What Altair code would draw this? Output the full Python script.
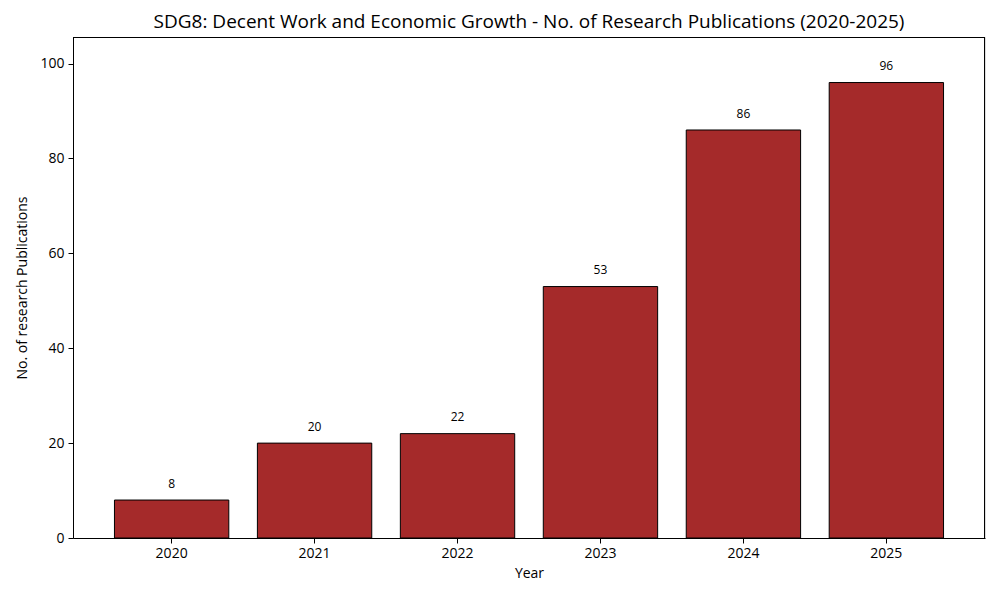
import altair as alt
import pandas as pd

years = ["2020", "2021", "2022", "2023", "2024", "2025"]
counts = [8, 20, 22, 53, 86, 96]

df = pd.DataFrame({"Year": years, "Count": counts})
df["LabelPos"] = df["Count"] + 2

FONT = "Open Sans"

x_enc = alt.X("Year:N", sort=years,
              scale=alt.Scale(paddingInner=0.2, paddingOuter=0.29),
              axis=alt.Axis(title="Year", labelAngle=0, labelFontSize=14, titleFontSize=14,
                            labelColor="black", titleColor="black", tickColor="black",
                            domainColor="black", tickSize=5, labelPadding=3, titlePadding=6,
                            titleFontWeight="normal", labelFont=FONT, titleFont=FONT))

bars = alt.Chart(df).mark_bar(color="#A52A2A", stroke="black", strokeWidth=1).encode(
    x=x_enc,
    y=alt.Y("Count:Q", scale=alt.Scale(domain=[0, 105.6], nice=False),
            axis=alt.Axis(title="No. of research Publications", values=[0, 20, 40, 60, 80, 100],
                          grid=False, labelFontSize=14, titleFontSize=14, labelColor="black",
                          titleColor="black", tickColor="black", domainColor="black",
                          tickSize=5, labelPadding=4, titlePadding=10, titleFontWeight="normal",
                          labelFont=FONT, titleFont=FONT)),
)

labels = alt.Chart(df).mark_text(baseline="bottom", fontSize=12, font=FONT, color="black").encode(
    x=alt.X("Year:N", sort=years),
    y=alt.Y("LabelPos:Q"),
    text=alt.Text("Count:Q"),
)

frame_top = alt.Chart(df).mark_rule(color="black", strokeWidth=1).encode(
    x=alt.value(0), x2=alt.value(912), y=alt.value(0.5))
frame_right = alt.Chart(df).mark_rule(color="black", strokeWidth=1).encode(
    x=alt.value(911.5), y=alt.value(0), y2=alt.value(501))

chart = alt.layer(bars, labels, frame_top, frame_right).properties(
    width=912, height=501,
    title=alt.Title("SDG8: Decent Work and Economic Growth - No. of Research Publications (2020-2025)",
                    fontSize=19, font=FONT, fontWeight="normal", color="black", offset=5),
    autosize=alt.AutoSizeParams(type="none"),
    padding={"left": 65, "top": 29, "right": 7, "bottom": 54},
).configure_view(stroke=None).configure(background="white")

chart.save("out.html", embed_options={"renderer": "svg", "actions": False})
